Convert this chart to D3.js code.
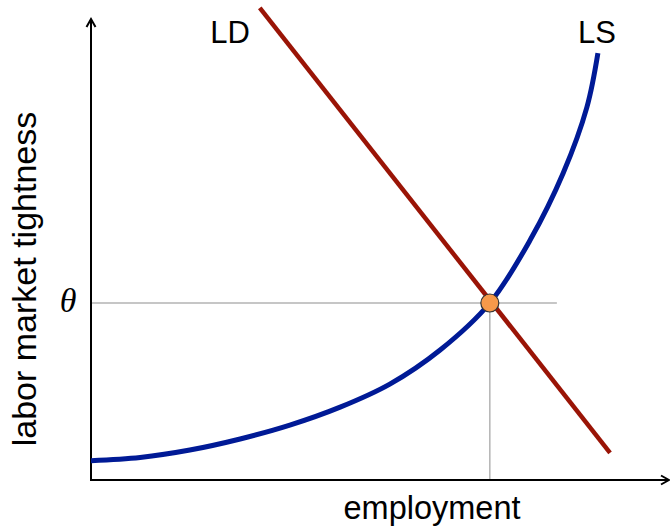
<!DOCTYPE html>
<html>
<head>
<meta charset="utf-8">
<script src="https://cdn.jsdelivr.net/npm/d3@7"></script>
<style>
  body { margin: 0; background: #fff; }
  text { font-family: 'Liberation Sans', Arial, sans-serif; fill: #000; }
</style>
</head>
<body>
<div id="chart"></div>
<script>
// curve data, in abstract units (0..100 on each axis)
var lsEmployment = [0, 8.5, 17.1, 25.8, 34.4, 43.1, 51.7, 60.4, 69.0, 76.0, 81.7, 85.8, 87.7]
var lsTightness = [4.2, 4.9, 6.5, 8.9, 11.9, 15.8, 20.8, 28.2, 38.4, 52.1, 66.6, 80.9, 92.6]
var ldEmployment = [29.2, 89.8]
var ldTightness = [102.4, 5.9]
var equilibrium = [69.0, 38.4]
var guideEnd = 80.6
var curveLabels = ['LD', 'LS']

var width = 670
var height = 527
var x = d3.scaleLinear().domain([0, 100]).range([91, 669])
var y = d3.scaleLinear().domain([0, 100]).range([480, 19])

var svg = d3.select('#chart')
  .append('svg')
  .attr('width', width)
  .attr('height', height)

// guide lines
svg.append('line')
  .attr('x1', x(0)).attr('x2', x(guideEnd))
  .attr('y1', y(equilibrium[1])).attr('y2', y(equilibrium[1]))
  .attr('stroke', '#b3b3b3').attr('stroke-width', 1.5)
svg.append('line')
  .attr('x1', x(equilibrium[0])).attr('x2', x(equilibrium[0]))
  .attr('y1', y(equilibrium[1])).attr('y2', y(0))
  .attr('stroke', '#b3b3b3').attr('stroke-width', 1.5)

// axes
svg.append('path')
  .attr('d', 'M' + x(0) + ',' + y(100) + 'V' + y(0) + 'H' + x(100))
  .attr('fill', 'none').attr('stroke', '#000').attr('stroke-width', 2)
svg.append('path')
  .attr('d', 'M' + (x(0) - 4.5) + ',' + (y(100) + 8) + 'L' + x(0) + ',' + y(100) + 'L' + (x(0) + 4.5) + ',' + (y(100) + 8))
  .attr('fill', 'none').attr('stroke', '#000').attr('stroke-width', 2)
svg.append('path')
  .attr('d', 'M' + (x(100) - 8) + ',' + (y(0) - 4.5) + 'L' + x(100) + ',' + y(0) + 'L' + (x(100) - 8) + ',' + (y(0) + 4.5))
  .attr('fill', 'none').attr('stroke', '#000').attr('stroke-width', 2)

var line = d3.line()
  .x(function (d) { return x(d[0]) })
  .y(function (d) { return y(d[1]) })

// labour supply
svg.append('path')
  .datum(d3.zip(lsEmployment, lsTightness))
  .attr('d', line.curve(d3.curveCatmullRom.alpha(0.5)))
  .attr('fill', 'none').attr('stroke', '#001a96').attr('stroke-width', 5)

// labour demand
svg.append('path')
  .datum(d3.zip(ldEmployment, ldTightness))
  .attr('d', line.curve(d3.curveLinear))
  .attr('fill', 'none').attr('stroke', '#9a1406').attr('stroke-width', 4.5)

svg.append('circle')
  .attr('cx', x(equilibrium[0])).attr('cy', y(equilibrium[1]))
  .attr('r', 9)
  .attr('fill', '#f7994a').attr('stroke', '#333').attr('stroke-width', 1.2)

// labels
svg.append('text')
  .attr('x', 230).attr('y', 43)
  .attr('text-anchor', 'middle').attr('font-size', 31)
  .text(curveLabels[0])
svg.append('text')
  .attr('x', 597).attr('y', 43)
  .attr('text-anchor', 'middle').attr('font-size', 31)
  .text(curveLabels[1])
svg.append('text')
  .attr('x', 432).attr('y', 519)
  .attr('text-anchor', 'middle').attr('font-size', 32.5)
  .text('employment')
svg.append('text')
  .attr('transform', 'translate(36,279) rotate(-90)')
  .attr('text-anchor', 'middle').attr('font-size', 34)
  .text('labor market tightness')
svg.append('text')
  .attr('x', 68).attr('y', y(equilibrium[1]) + 9)
  .attr('text-anchor', 'middle').attr('font-size', 34)
  .style('font-family', "'Liberation Serif', 'DejaVu Serif', serif")
  .style('font-style', 'italic')
  .text('θ')
</script>
</body>
</html>
